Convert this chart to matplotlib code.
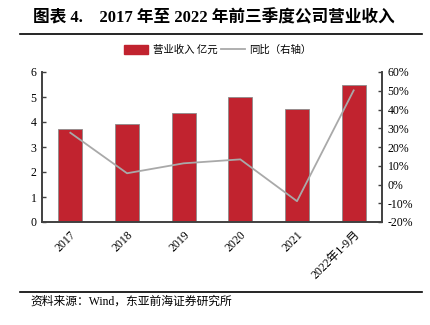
import matplotlib.pyplot as plt
from matplotlib.lines import Line2D

plt.rcParams['font.family'] = ['Liberation Serif', 'Noto Sans CJK SC']

periods = ["2017", "2018", "2019", "2020", "2021", "2022年1-9月"]
revenue = [3.71, 3.94, 4.36, 4.98, 4.54, 5.49]      # 亿元
yoy = [27.6, 6.0, 11.3, 13.4, -8.9, 50.2]           # %

bar_color = "#C1232F"
line_color = "#A9A9A9"
spine_color = "#404040"

fig = plt.figure(figsize=(4.31, 3.25), dpi=100)
ax = fig.add_axes([42 / 431, 1 - 222 / 325, 340 / 431, 150 / 325])
ax2 = ax.twinx()

x = range(len(periods))
ax.bar(x, revenue, width=0.42, color=bar_color, edgecolor="#8C8C8C",
       linewidth=0.6, label="营业收入 亿元", zorder=2)
ax2.plot(x, yoy, color=line_color, linewidth=1.3, label="同比（右轴）")

ax.set_xlim(-0.5, 5.5)
ax.set_ylim(0, 6)
ax2.set_ylim(-20, 60)
ax.set_yticks(range(0, 7))
ax2.set_yticks(range(-20, 61, 10))
ax2.set_yticklabels([f"{v}%" for v in range(-20, 61, 10)])

ax.set_xticks(list(x))
ax.set_xticklabels(periods, rotation=45, ha="right", rotation_mode="anchor")

for a in (ax, ax2):
    a.spines["top"].set_visible(False)
    for s in ("left", "right", "bottom"):
        a.spines[s].set_color(spine_color)
        a.spines[s].set_linewidth(1.2)
    a.tick_params(axis="y", direction="in", length=3, width=1,
                  color=spine_color, labelsize=8.5, pad=4)
ax.tick_params(axis="x", length=0, labelsize=8.5, pad=5)

handles = [plt.Rectangle((0, 0), 1, 1, color=bar_color),
           Line2D([0], [0], color=line_color, linewidth=1.3)]
fig.legend(handles, ["营业收入 亿元", "同比（右轴）"], loc="center",
           bbox_to_anchor=(0.506, 1 - 50 / 325), ncol=2, frameon=False,
           prop={'family': 'Noto Sans CJK SC', 'size': 7.5},
           handlelength=2.3, handleheight=0.9, columnspacing=0.4,
           handletextpad=0.4)

# 标题、分隔线与资料来源
fig.text(33 / 431, 1 - 18 / 325, "图表 4.    2017 年至 2022 年前三季度公司营业收入",
         fontsize=12, fontweight="bold", va="center", ha="left",
         family=['Liberation Serif', 'Noto Sans CJK SC'])
fig.add_artist(Line2D([20 / 431, 422 / 431], [1 - 34 / 325] * 2,
                      color="black", linewidth=1.2))
fig.add_artist(Line2D([20 / 431, 422 / 431], [1 - 292 / 325] * 2,
                      color="black", linewidth=1.2))
fig.text(30 / 431, 1 - 302 / 325, "资料来源：Wind，东亚前海证券研究所",
         fontsize=8.5, va="center", ha="left")

fig.savefig("out.png", dpi=100)
